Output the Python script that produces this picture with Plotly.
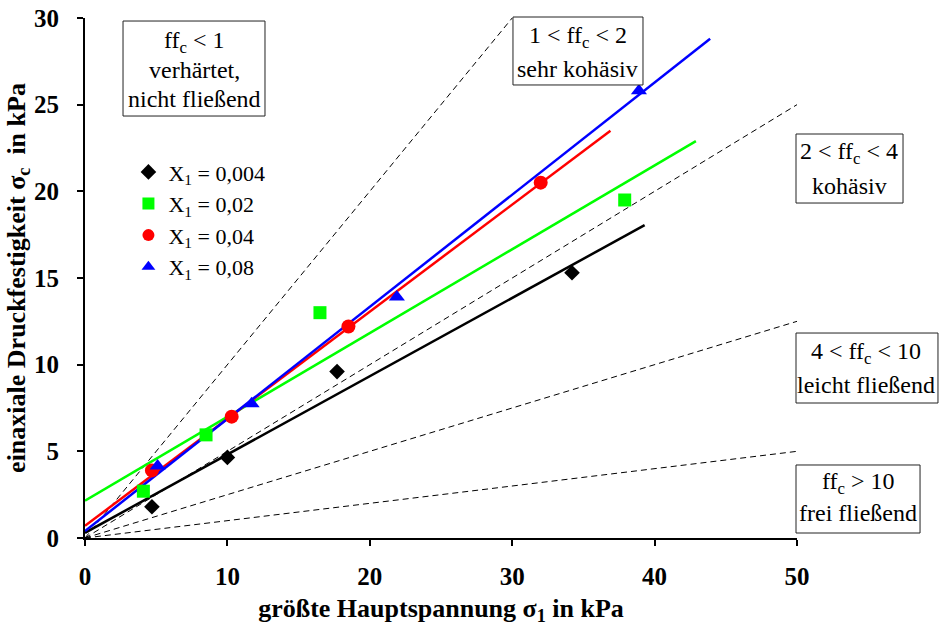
import plotly.graph_objects as go

# ---- data ----
x_004 = [4.7, 10.0, 17.7, 34.2]
y_004 = [1.8, 4.65, 9.6, 15.3]
x_002 = [4.1, 8.5, 16.5, 37.9]
y_002 = [2.7, 5.95, 13.0, 19.5]
x_004b = [4.7, 10.3, 18.5, 32.0]
y_004b = [3.9, 7.0, 12.2, 20.5]
x_008 = [5.1, 11.7, 21.9, 38.9]
y_008 = [4.15, 7.75, 13.9, 25.8]

# fit lines (start / end) per series
fit_x_004 = [0, 39.3]; fit_y_004 = [0.3, 18.05]
fit_x_002 = [0, 42.9]; fit_y_002 = [2.15, 22.9]
fit_x_004b = [0, 36.9]; fit_y_004b = [0.7, 23.5]
fit_x_008 = [0, 43.9]; fit_y_008 = [0.4, 28.8]

# flow-function boundary lines ff_c = sigma1 / sigma_c
ffc_values = [1, 2, 4, 10]
ffc_x = [0, 50]

legend_names = ["X<sub>1</sub> = 0,004", "X<sub>1</sub> = 0,02",
                "X<sub>1</sub> = 0,04", "X<sub>1</sub> = 0,08"]

box_lines = [
    ["ff<sub>c</sub> < 1", "verhärtet,", "nicht fließend"],
    ["1 < ff<sub>c</sub> < 2", "sehr kohäsiv"],
    ["2 < ff<sub>c</sub> < 4", "kohäsiv"],
    ["4 < ff<sub>c</sub> < 10", "leicht fließend"],
    ["ff<sub>c</sub> > 10", "frei fließend"],
]

FONT = "Liberation Serif, Times New Roman, serif"

fig = go.Figure()

# dashed ff_c lines
for f in ffc_values:
    fig.add_trace(go.Scatter(x=ffc_x, y=[v / f for v in ffc_x], mode="lines",
                             line=dict(color="black", width=1, dash="6px,4px"),
                             showlegend=False, hoverinfo="skip"))

series = [
    (x_004, y_004, fit_x_004, fit_y_004, "black", "diamond", 12),
    (x_002, y_002, fit_x_002, fit_y_002, "#00FF00", "square", 13),
    (x_004b, y_004b, fit_x_004b, fit_y_004b, "#FF0000", "circle", 14),
    (x_008, y_008, fit_x_008, fit_y_008, "#0000FF", "triangle-up", 14),
]

for i, (xs, ys, fx, fy, col, sym, sz) in enumerate(series):
    fig.add_trace(go.Scatter(x=fx, y=fy, mode="lines",
                             line=dict(color=col, width=2.5),
                             showlegend=False, hoverinfo="skip"))
for i, (xs, ys, fx, fy, col, sym, sz) in enumerate(series):
    fig.add_trace(go.Scatter(x=xs, y=ys, mode="markers", name=legend_names[i],
                             legendgroup="g%d" % i,
                             marker=dict(color=col, symbol=sym, size=sz,
                                         line=dict(width=0)),
                             cliponaxis=False))

# box rectangles (paper coords) and text line centres
box_rects = [
    (0.0534, 0.2528, 0.8115, 0.9942),
    (0.6011, 0.7837, 0.8712, 1.0019),
    (0.9986, 1.1489, 0.6442, 0.7769),
    (0.9986, 1.1980, 0.2596, 0.3942),
    (0.9986, 1.1728, 0.0096, 0.1404),
]
box_text_x = [0.1531, 0.6924, 1.0737, 1.0969, 1.0857]
box_text_y = [
    [0.9538, 0.9000, 0.8442],
    [0.9635, 0.9019],
    [0.7404, 0.6769],
    [0.3558, 0.2942],
    [0.1058, 0.0481],
]
for lines, (x0, x1, y0, y1), tx, tys in zip(box_lines, box_rects, box_text_x, box_text_y):
    fig.add_shape(type="rect", xref="paper", yref="paper", x0=x0, x1=x1, y0=y0, y1=y1,
                  line=dict(color="#222222", width=1), fillcolor="white", layer="above")
    for txt, ty in zip(lines, tys):
        fig.add_annotation(x=tx, y=ty, xref="paper", yref="paper", text=txt,
                           showarrow=False, xanchor="center", yanchor="middle",
                           font=dict(family=FONT, size=24, color="black"))

fig.update_layout(
    width=940, height=626,
    margin=dict(l=85, r=143, t=18, b=88),
    paper_bgcolor="white", plot_bgcolor="white",
    font=dict(family=FONT, color="black", size=22),
    legend=dict(x=0.061, y=0.744, xanchor="left", yanchor="top",
                bgcolor="rgba(0,0,0,0)", tracegroupgap=0,
                font=dict(family=FONT, size=22, color="black"),
                itemsizing="constant"),
    showlegend=True,
)
fig.update_xaxes(range=[0, 50], tickvals=[0, 10, 20, 30, 40, 50],
                 showgrid=False, zeroline=False, showline=True, automargin=False,
                 linecolor="black", linewidth=2, ticks="outside",
                 ticklen=6, tickwidth=2, tickcolor="black",
                 tickfont=dict(family=FONT, size=25, color="black", weight="bold"),
                 ticklabelstandoff=9,
                 title=dict(text="<b>größte Hauptspannung σ<sub>1</sub> in kPa</b>",
                            font=dict(family=FONT, size=26, color="black"),
                            standoff=10))
fig.update_yaxes(range=[0, 30], tickvals=[0, 5, 10, 15, 20, 25, 30],
                 showgrid=False, zeroline=False, showline=True, automargin=False,
                 linecolor="black", linewidth=2, ticks="outside",
                 ticklen=6, tickwidth=2, tickcolor="black",
                 tickfont=dict(family=FONT, size=25, color="black", weight="bold"),
                 ticklabelstandoff=13,
                 title=dict(text="<b>einaxiale Druckfestigkeit σ<sub>c</sub>  in kPa</b>",
                            font=dict(family=FONT, size=26, color="black"),
                            standoff=1))

fig.write_html("out.html", config={"displayModeBar": False},
               post_script="document.body.style.margin='0';document.body.style.padding='0';")
